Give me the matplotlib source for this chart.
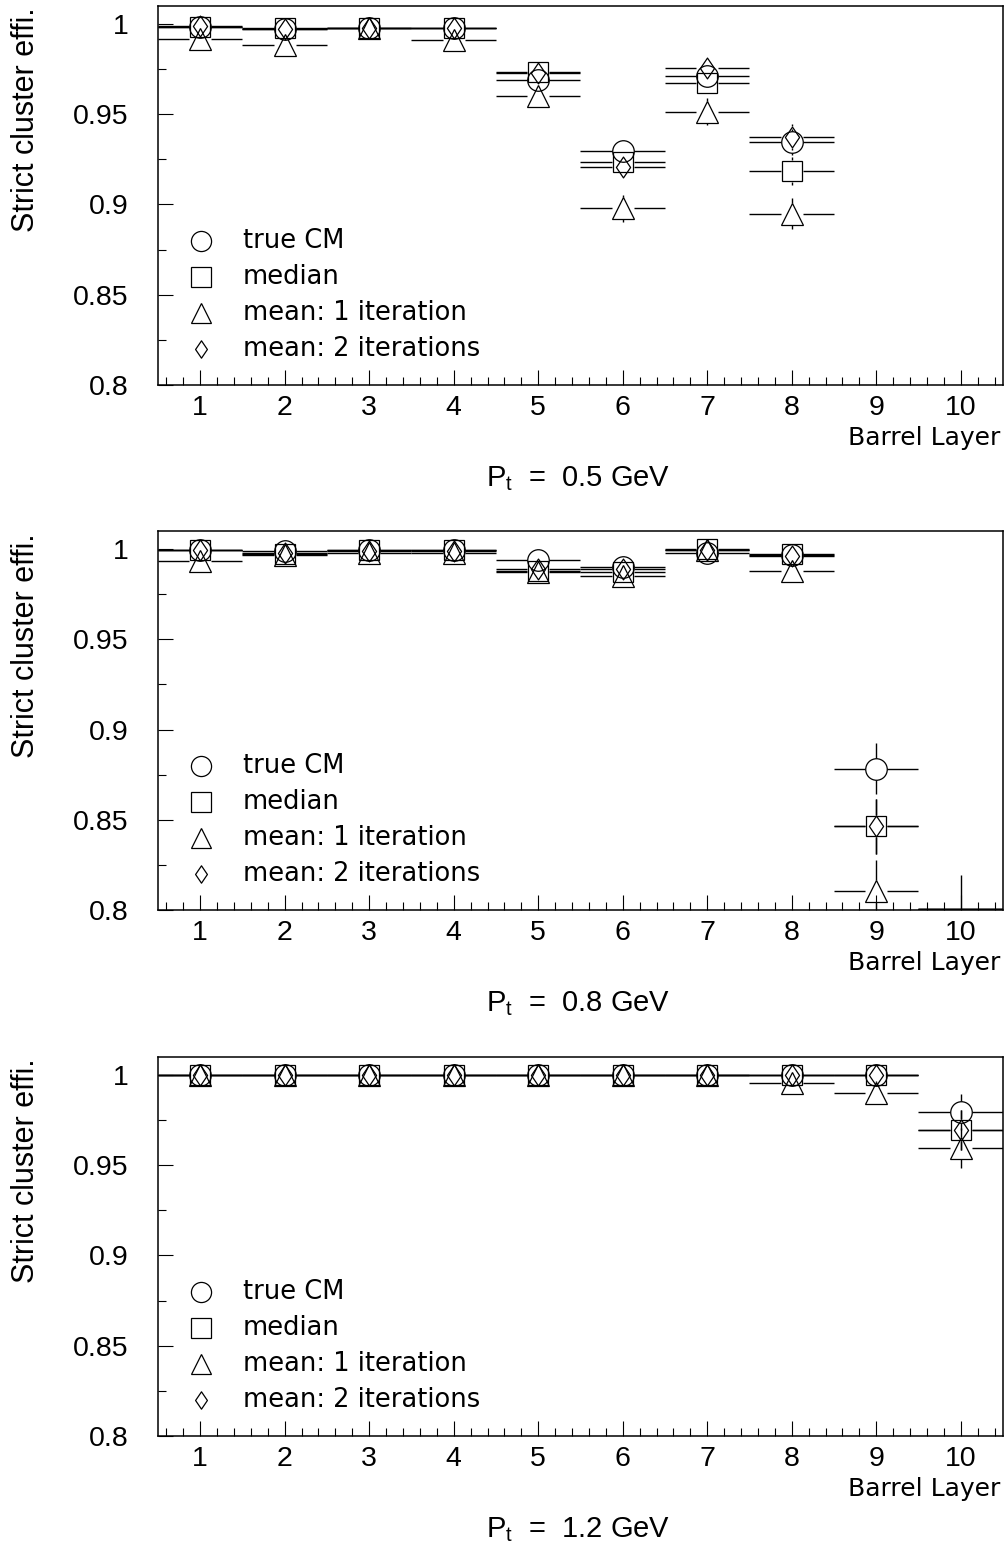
import numpy as np
import matplotlib
matplotlib.use('Agg')
import matplotlib.pyplot as plt
from matplotlib.path import Path

nan = np.nan

# Barrel layers
layers = np.arange(1, 11)

# Pt = 0.5 GeV
pt05_true_cm = [0.9985, 0.9970, 0.9980, 0.9975, 0.9690, 0.9294, 0.9713, 0.9346, nan, nan]
pt05_median = [0.9985, 0.9975, 0.9980, 0.9977, 0.9735, 0.9235, 0.9670, 0.9185, nan, nan]
pt05_mean1 = [0.9915, 0.9885, 0.9980, 0.9910, 0.9600, 0.8980, 0.9513, 0.8948, nan, nan]
pt05_mean2 = [0.9990, 0.9970, 0.9980, 0.9977, 0.9730, 0.9210, 0.9754, 0.9374, nan, nan]
pt05_true_cm_err = [0.001, 0.0015, 0.001, 0.0015, 0.004, 0.006, 0.004, 0.007, nan, nan]
pt05_median_err = [0.001, 0.0015, 0.001, 0.0015, 0.004, 0.006, 0.005, 0.008, nan, nan]
pt05_mean1_err = [0.002, 0.0025, 0.001, 0.002, 0.005, 0.0075, 0.0075, 0.0085, nan, nan]
pt05_mean2_err = [0.001, 0.0015, 0.001, 0.0015, 0.004, 0.006, 0.004, 0.007, nan, nan]

# Pt = 0.8 GeV
pt08_true_cm = [0.9996, 0.9990, 0.9995, 0.9995, 0.9940, 0.9900, 0.9980, 0.9967, 0.8783, 0.7950]
pt08_median = [0.9996, 0.9975, 0.9995, 0.9995, 0.9876, 0.9875, 1.0000, 0.9970, 0.8463, 0.7600]
pt08_mean1 = [0.9935, 0.9965, 0.9980, 0.9980, 0.9875, 0.9852, 0.9995, 0.9876, 0.8107, 0.7200]
pt08_mean2 = [0.9996, 0.9980, 0.9990, 0.9990, 0.9890, 0.9890, 0.9995, 0.9963, 0.8463, 0.7600]
pt08_true_cm_err = [0.0005, 0.001, 0.0005, 0.0005, 0.002, 0.003, 0.001, 0.002, 0.014, 0.0245]
pt08_median_err = [0.0005, 0.0015, 0.0005, 0.0005, 0.003, 0.003, 0.0005, 0.002, 0.015, 0.03]
pt08_mean1_err = [0.002, 0.002, 0.001, 0.001, 0.003, 0.003, 0.0005, 0.003, 0.017, 0.03]
pt08_mean2_err = [0.0005, 0.001, 0.0005, 0.0005, 0.003, 0.003, 0.0005, 0.002, 0.015, 0.03]

# Pt = 1.2 GeV
pt12_true_cm = [1.0, 1.0, 1.0, 1.0, 1.0, 1.0, 1.0, 1.0, 1.0, 0.9796]
pt12_median = [1.0, 1.0, 1.0, 1.0, 1.0, 1.0, 1.0, 1.0, 1.0, 0.9694]
pt12_mean1 = [1.0, 1.0, 1.0, 1.0, 1.0, 1.0, 1.0, 0.9954, 0.9902, 0.9594]
pt12_mean2 = [1.0, 1.0, 1.0, 1.0, 1.0, 1.0, 1.0, 1.0, 1.0, 0.9694]
pt12_true_cm_err = [0.0, 0.0, 0.0, 0.0, 0.0, 0.0, 0.0, 0.0, 0.0, 0.010]
pt12_median_err = [0.0, 0.0, 0.0, 0.0, 0.0, 0.0, 0.0, 0.0, 0.0, 0.011]
pt12_mean1_err = [0.0, 0.0, 0.0, 0.0, 0.0, 0.0, 0.0, 0.004, 0.0065, 0.011]
pt12_mean2_err = [0.0, 0.0, 0.0, 0.0, 0.0, 0.0, 0.0, 0.0, 0.0, 0.011]

pt_labels = ['0.5', '0.8', '1.2']
series_names = ['true CM', 'median', 'mean: 1 iteration', 'mean: 2 iterations']

panels = [
    (pt05_true_cm, pt05_median, pt05_mean1, pt05_mean2,
     pt05_true_cm_err, pt05_median_err, pt05_mean1_err, pt05_mean2_err),
    (pt08_true_cm, pt08_median, pt08_mean1, pt08_mean2,
     pt08_true_cm_err, pt08_median_err, pt08_mean1_err, pt08_mean2_err),
    (pt12_true_cm, pt12_median, pt12_mean1, pt12_mean2,
     pt12_true_cm_err, pt12_median_err, pt12_mean1_err, pt12_mean2_err),
]

# ROOT-like open diamond
diamond = Path([(0, 1), (0.68, 0), (0, -1), (-0.68, 0), (0, 1)],
               [Path.MOVETO, Path.LINETO, Path.LINETO, Path.LINETO, Path.CLOSEPOLY])
markers = ['o', 's', '^', diamond]
msizes = [15.5, 15, 15.5, 15]
leg_msizes = [14.5, 14, 14.5, 12.5]

YLO, YHI = 0.8, 1.01
GX, GY = 0.13, 0.0061   # gap of error bars around the marker

tick_font = 'Liberation Sans'
label_font = 'DejaVu Sans'
plt.rcParams['mathtext.fontset'] = 'custom'
plt.rcParams['mathtext.rm'] = tick_font

fig = plt.figure(figsize=(10.06, 15.49), dpi=100)
bottoms = [0.7515, 0.4125, 0.0730]

for p, (bottom, data) in enumerate(zip(bottoms, panels)):
    ax = fig.add_axes([0.157, bottom, 0.840, 0.2447])
    vals = data[:4]
    errs = data[4:]
    for k in range(4):
        y = np.array(vals[k], dtype=float)
        e = np.array(errs[k], dtype=float)
        x = layers.astype(float)
        ok = ~np.isnan(y)
        inside = ok & (y >= YLO)
        below = ok & (y < YLO)
        xi, yi, ei = x[inside], y[inside], e[inside]
        ax.hlines(yi, xi - 0.5, xi - GX, color='black', lw=1.0)
        ax.hlines(yi, xi + GX, xi + 0.5, color='black', lw=1.0)
        big = ei > GY
        ax.vlines(xi[big], yi[big] + GY, yi[big] + ei[big], color='black', lw=1.0)
        ax.vlines(xi[big], yi[big] - ei[big], yi[big] - GY, color='black', lw=1.0)
        # points below the frame: bar clamped to the frame edge
        xb, yb, eb = x[below], y[below], e[below]
        ax.hlines(np.full(len(xb), YLO + 0.0007), xb - 0.5, xb + 0.5, color='black', lw=1.0)
        ax.vlines(xb, yb - eb, yb + eb, color='black', lw=1.0)
        ax.plot(xi, yi, ls='none', marker=markers[k], ms=msizes[k],
                mfc='none', mec='black', mew=0.9)

    ax.set_xlim(0.5, 10.5)
    ax.set_ylim(YLO, YHI)
    ax.set_xticks(layers)
    ax.set_xticks(np.arange(0.6, 10.5, 0.2), minor=True)
    ax.set_yticks([0.8, 0.85, 0.9, 0.95, 1.0])
    ax.set_yticklabels(['0.8', '0.85', '0.9', '0.95', '1'])
    ax.set_yticks(np.arange(0.8, 1.005, 0.025), minor=True)
    ax.tick_params(which='both', direction='in', top=False, right=False, width=0.8)
    ax.tick_params(which='major', length=11)
    ax.tick_params(which='minor', length=5.5)
    ax.tick_params(axis='y', which='major', pad=21)
    ax.tick_params(axis='x', which='major', pad=7)
    for lab in ax.get_xticklabels() + ax.get_yticklabels():
        lab.set_fontfamily(tick_font)
        lab.set_fontsize(20.5)
    for sp in ax.spines.values():
        sp.set_linewidth(1.1)

    ax.set_ylabel('Strict cluster effi.', loc='top', fontsize=22, family=tick_font)
    ax.yaxis.set_label_coords(-0.138, 0.995)
    ax.set_xlabel('Barrel Layer', loc='right', fontsize=18, family=label_font)
    ax.xaxis.set_label_coords(0.997, -0.108)

    ax.text(0.497, -0.247, r'$\mathregular{P_t}$  =  ' + pt_labels[p] + ' GeV',
            transform=ax.transAxes, ha='center', va='center',
            fontsize=21, family=tick_font)

    # legend
    rows = [0.38, 0.285, 0.19, 0.095]
    for k in range(4):
        ax.plot([0.0509], [rows[k]], transform=ax.transAxes, ls='none',
                marker=markers[k], ms=leg_msizes[k], mfc='none', mec='black', mew=0.9)
        ax.text(0.1006, rows[k], series_names[k], transform=ax.transAxes,
                ha='left', va='center', fontsize=18.5, family=label_font)

fig.savefig('out.png', dpi=100)
